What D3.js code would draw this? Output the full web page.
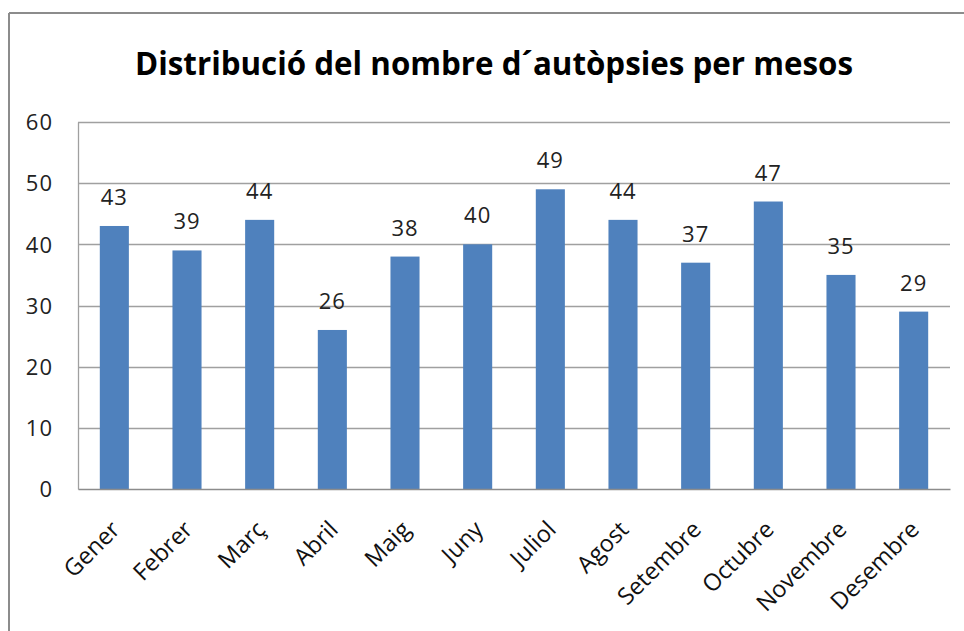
<!DOCTYPE html>
<html>
<head>
<meta charset="utf-8">
<script src="https://cdn.jsdelivr.net/npm/d3@7"></script>
<style>
  html, body { margin: 0; padding: 0; background: #fff; }
  svg { display: block; }
  text { font-family: "Open Sans", "Noto Sans", sans-serif; }
</style>
</head>
<body>
<svg id="chart" width="964" height="631"></svg>
<script>
const title = "Distribució del nombre d\u00B4autòpsies per mesos";
const months = ["Gener","Febrer","Març","Abril","Maig","Juny","Juliol","Agost","Setembre","Octubre","Novembre","Desembre"];
const values = [43,39,44,26,38,40,49,44,37,47,35,29];
const yTicks = [0,10,20,30,40,50,60];

const svg = d3.select("#chart");
const W = 964, H = 631;
const plot = { left: 78, right: 950, top: 122, bottom: 489 };

// outer frame
svg.append("line").attr("x1", 9).attr("x2", W).attr("y1", 13).attr("y2", 13)
  .attr("stroke", "#8c8c8c").attr("stroke-width", 2);
svg.append("line").attr("x1", 9).attr("x2", 9).attr("y1", 13).attr("y2", H)
  .attr("stroke", "#8c8c8c").attr("stroke-width", 2);

// title
svg.append("text").attr("x", 494).attr("y", 75).attr("text-anchor", "middle")
  .attr("font-weight", "bold").attr("font-size", 32).attr("fill", "#000")
  .attr("textLength", 718).attr("lengthAdjust", "spacingAndGlyphs")
  .text(title);

const x = d3.scaleBand().domain(months).range([plot.left, plot.right]).paddingInner(0.6).paddingOuter(0.3);
const y = d3.scaleLinear().domain([0, 60]).range([plot.bottom, plot.top]);

// gridlines
svg.append("g").selectAll("line").data(yTicks.filter(d => d > 0)).join("line")
  .attr("x1", plot.left).attr("x2", plot.right)
  .attr("y1", d => Math.round(y(d)) + 0.5).attr("y2", d => Math.round(y(d)) + 0.5)
  .attr("stroke", "#a0a0a0").attr("stroke-width", 1.3);

// y axis
const yAxis = d3.axisLeft(y).tickValues(yTicks).tickSize(0).tickPadding(25);
const gy = svg.append("g").attr("transform", `translate(${plot.left},0)`).call(yAxis);
gy.select(".domain").attr("stroke", "#a0a0a0").attr("stroke-width", 1.3);
gy.selectAll("text").attr("font-size", 22).attr("fill", "#222")
  .attr("font-family", "'Open Sans', sans-serif").attr("dy", "0.35em")
  .attr("letter-spacing", 1);

// bars
svg.append("g").selectAll("rect").data(values).join("rect")
  .attr("x", (d, i) => x(months[i]))
  .attr("width", x.bandwidth())
  .attr("y", d => y(d))
  .attr("height", d => y(0) - y(d))
  .attr("fill", "#4f81bd");

// value labels
svg.append("g").selectAll("text").data(values).join("text")
  .attr("x", (d, i) => x(months[i]) + x.bandwidth() / 2)
  .attr("y", d => y(d) - 21)
  .attr("text-anchor", "middle").attr("font-size", 22).attr("fill", "#222")
  .attr("letter-spacing", 1)
  .text(d => d);

// x axis
const xAxis = d3.axisBottom(x).tickSize(0).tickPadding(0);
const gx = svg.append("g").attr("transform", `translate(0,${plot.bottom})`).call(xAxis);
gx.select(".domain").attr("stroke", "#8c8c8c").attr("stroke-width", 1.5);
gx.selectAll("text").attr("font-size", 23.5).attr("fill", "#111")
  .attr("font-family", "'Open Sans', sans-serif")
  .attr("text-anchor", "end")
  .attr("dy", 0)
  .attr("y", 0)
  .attr("transform", "translate(7,42) rotate(-45)");
</script>
</body>
</html>
